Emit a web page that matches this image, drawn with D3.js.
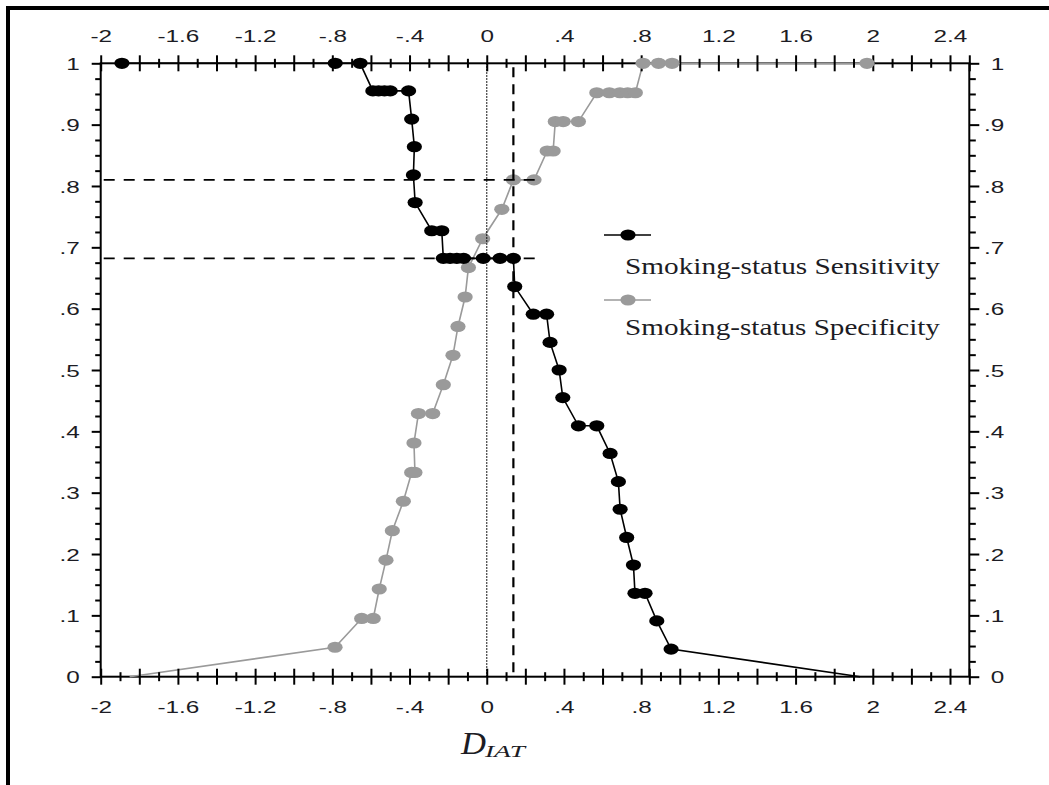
<!DOCTYPE html>
<html><head><meta charset="utf-8">
<script src="https://cdn.jsdelivr.net/npm/d3@7"></script>
<style>body{margin:0;background:#fff}svg{display:block}</style>
</head><body><svg id="c" width="1049" height="785"></svg>
<script>
// ---- data ----
const sensX = [-1.89, -0.785, -0.656, -0.59, -0.56, -0.53, -0.50, -0.405, -0.389, -0.375, -0.380, -0.371, -0.285, -0.233, -0.225, -0.19, -0.155, -0.12, -0.018, 0.069, 0.138, 0.145, 0.241, 0.310, 0.328, 0.375, 0.394, 0.475, 0.570, 0.639, 0.682, 0.691, 0.725, 0.760, 0.768, 0.820, 0.881, 0.955, 1.934];
const sensY = [1, 1, 1, 0.955, 0.955, 0.955, 0.955, 0.955, 0.909, 0.864, 0.818, 0.773, 0.727, 0.727, 0.682, 0.682, 0.682, 0.682, 0.682, 0.682, 0.682, 0.636, 0.591, 0.591, 0.545, 0.5, 0.455, 0.409, 0.409, 0.364, 0.318, 0.273, 0.227, 0.182, 0.136, 0.136, 0.091, 0.045, 0];
const specX = [-1.85, -0.786, -0.648, -0.588, -0.557, -0.522, -0.489, -0.432, -0.389, -0.372, -0.377, -0.354, -0.280, -0.225, -0.175, -0.149, -0.112, -0.095, -0.021, 0.078, 0.138, 0.245, 0.313, 0.344, 0.355, 0.396, 0.475, 0.570, 0.635, 0.69, 0.73, 0.77, 0.81, 0.89, 0.96, 1.97];
const specY = [0, 0.048, 0.095, 0.095, 0.143, 0.190, 0.238, 0.286, 0.333, 0.333, 0.381, 0.429, 0.429, 0.476, 0.524, 0.571, 0.619, 0.667, 0.714, 0.762, 0.810, 0.810, 0.857, 0.857, 0.905, 0.905, 0.905, 0.952, 0.952, 0.952, 0.952, 0.952, 1, 1, 1, 1];
const seriesNames = ["Smoking-status Sensitivity", "Smoking-status Specificity"];
const cutoffX = [0.138];
const cutoffY = [0.810, 0.682];
const cutoffEndX = [0.276];

const xLabelValues = [-2, -1.6, -1.2, -0.8, -0.4, 0, 0.4, 0.8, 1.2, 1.6, 2, 2.4];
const xTickLabels = ["-2", "-1.6", "-1.2", "-.8", "-.4", "0", ".4", ".8", "1.2", "1.6", "2", "2.4"];
const xLongTicks = [-2, -1.8, -1.6, -1.4, -1.2, -1, -0.8, -0.6, -0.4, -0.2, 0, 0.2, 0.4, 0.6, 0.8, 1, 1.2, 1.4, 1.6, 1.8, 2, 2.2, 2.4, 2.5];
const xShortTicks = [-1.9, -1.7, -1.5, -1.3, -1.1, -0.9, -0.7, -0.5, -0.3, -0.1, 0.1, 0.3, 0.5, 0.7, 0.9, 1.1, 1.3, 1.5, 1.7, 1.9, 2.1, 2.3];
const yLabelValues = [0, 0.1, 0.2, 0.3, 0.4, 0.5, 0.6, 0.7, 0.8, 0.9, 1];
const yTickLabels = ["0", ".1", ".2", ".3", ".4", ".5", ".6", ".7", ".8", ".9", "1"];
const yMinorTicks = [0.025,0.05,0.075,0.125,0.15,0.175,0.225,0.25,0.275,0.325,0.35,0.375,0.425,0.45,0.475,0.525,0.55,0.575,0.625,0.65,0.675,0.725,0.75,0.775,0.825,0.85,0.875,0.925,0.95,0.975];
const axisTitleMain = "D";
const axisTitleSub = "IAT";

// ---- layout ----
const svg = d3.select("#c");
const x = d3.scaleLinear().domain([-2, 2.5]).range([100.7, 969.3]);
const y = d3.scaleLinear().domain([0, 1]).range([676.7, 63.3]);
const X0 = x(-2), X1 = x(2.5), Y0 = y(0), Y1 = y(1);
const labelFont = "'Liberation Sans', Arial, sans-serif";
const serif = "'Liberation Serif', 'Times New Roman', serif";
const textCol = "#1c1c24";
const SX = 1.43;

// frame
svg.append("path").attr("d", "M8,790V8H1060").attr("fill", "none").attr("stroke", "#000").attr("stroke-width", 4);

// axis domain lines
const dom = svg.append("g").attr("stroke", "#000").attr("stroke-width", 2).attr("fill", "none");
dom.append("rect").attr("x", X0).attr("y", Y1).attr("width", X1 - X0).attr("height", Y0 - Y1);

// series
const sens = sensX.map((v, i) => [v, sensY[i]]);
const spec = specX.map((v, i) => [v, specY[i]]);
const line = d3.line().x(d => x(d[0])).y(d => y(d[1]));
const gGray = svg.append("g"), gBlack = svg.append("g");
gGray.append("path").datum(spec).attr("d", line).attr("fill", "none").attr("stroke", "#9a9a9a").attr("stroke-width", 1.6);
gBlack.append("path").datum(sens).attr("d", line).attr("fill", "none").attr("stroke", "#000").attr("stroke-width", 1.6);

// ticks
function crossTicks(g, size) {
  g.select(".domain").remove();
  g.selectAll(".tick line").attr("y1", -size).attr("y2", size).attr("stroke", "#000").attr("stroke-width", 2);
}
function styleText(g) {
  g.selectAll("text").attr("fill", textCol).attr("font-family", labelFont).attr("font-size", 17);
}
// bottom
const gb = svg.append("g").attr("transform", `translate(0,${Y0})`);
gb.call(d3.axisBottom(x).tickValues(xLongTicks).tickFormat("").tickSize(8)); crossTicks(gb, 8);
const gb2 = svg.append("g").attr("transform", `translate(0,${Y0})`);
gb2.call(d3.axisBottom(x).tickValues(xShortTicks).tickFormat("").tickSize(4.5)); crossTicks(gb2, 4.5);
const gbl = svg.append("g").attr("transform", `translate(0,${Y0})`);
gbl.call(d3.axisBottom(x).tickValues(xLabelValues).tickFormat((d, i) => xTickLabels[i]).tickSize(0));
gbl.select(".domain").remove(); styleText(gbl);
gbl.selectAll("text").attr("y", null).attr("dy", null).attr("transform", `translate(0,36) scale(${SX},1)`);
// top
const gt = svg.append("g").attr("transform", `translate(0,${Y1})`);
gt.call(d3.axisTop(x).tickValues(xLongTicks).tickFormat("").tickSize(8)); crossTicks(gt, 8);
const gt2 = svg.append("g").attr("transform", `translate(0,${Y1})`);
gt2.call(d3.axisTop(x).tickValues(xShortTicks).tickFormat("").tickSize(4.5)); crossTicks(gt2, 4.5);
const gtl = svg.append("g").attr("transform", `translate(0,${Y1})`);
gtl.call(d3.axisTop(x).tickValues(xLabelValues).tickFormat((d, i) => xTickLabels[i]).tickSize(0));
gtl.select(".domain").remove(); styleText(gtl);
gtl.selectAll("text").attr("y", null).attr("dy", null).attr("transform", `translate(0,-21.5) scale(${SX},1)`);
// left
const gl = svg.append("g").attr("transform", `translate(${X0},0)`);
gl.call(d3.axisLeft(y).tickValues(yLabelValues).tickFormat((d, i) => yTickLabels[i]).tickSize(9));
gl.select(".domain").remove(); styleText(gl);
gl.selectAll(".tick line").attr("stroke", "#000").attr("stroke-width", 2);
gl.selectAll("text").attr("x", null).attr("dy", "0.36em").attr("transform", `translate(-21,0) scale(${SX},1)`);
const gl2 = svg.append("g").attr("transform", `translate(${X0},0)`);
gl2.call(d3.axisLeft(y).tickValues(yMinorTicks).tickFormat("").tickSize(5.5));
gl2.select(".domain").remove(); gl2.selectAll(".tick line").attr("stroke", "#000").attr("stroke-width", 2);
// right
const gr = svg.append("g").attr("transform", `translate(${X1},0)`);
gr.call(d3.axisRight(y).tickValues(yLabelValues).tickFormat((d, i) => yTickLabels[i]).tickSize(10));
gr.select(".domain").remove(); styleText(gr);
gr.selectAll(".tick line").attr("stroke", "#000").attr("stroke-width", 2);
gr.selectAll("text").attr("x", null).attr("dy", "0.36em").attr("text-anchor", "end").attr("transform", `translate(35,0) scale(${SX},1)`);
const gr2 = svg.append("g").attr("transform", `translate(${X1},0)`);
gr2.call(d3.axisRight(y).tickValues(yMinorTicks).tickFormat("").tickSize(6.5));
gr2.select(".domain").remove(); gr2.selectAll(".tick line").attr("stroke", "#000").attr("stroke-width", 2);

// markers
const RX = 7.6, RY = 5.6;
svg.append("g").selectAll("ellipse").data(spec.filter(d => d[1] > 0)).join("ellipse")
  .attr("cx", d => x(d[0])).attr("cy", d => y(d[1])).attr("rx", RX).attr("ry", RY).attr("fill", "#9a9a9a");
svg.append("g").selectAll("ellipse").data(sens.filter(d => d[1] > 0)).join("ellipse")
  .attr("cx", d => x(d[0])).attr("cy", d => y(d[1])).attr("rx", RX).attr("ry", RY).attr("fill", "#000");

// reference lines
const ref = svg.append("g").attr("fill", "none").attr("stroke", "#000");
ref.append("line").attr("x1", x(0)).attr("x2", x(0)).attr("y1", Y1).attr("y2", Y0).attr("stroke-width", 1.2).attr("stroke-dasharray", "1.5,1.5");
ref.append("line").attr("x1", x(cutoffX[0])).attr("x2", x(cutoffX[0])).attr("y1", Y1 + 4).attr("y2", Y0).attr("stroke-width", 2.2).attr("stroke-dasharray", "10,7");
cutoffY.forEach(v => {
  ref.append("line").attr("x1", X0 + 3).attr("x2", x(cutoffEndX[0])).attr("y1", y(v)).attr("y2", y(v)).attr("stroke-width", 1.6).attr("stroke-dasharray", "11,9");
});

// legend
const lg = svg.append("g");
const legendColors = ["#000", "#9a9a9a"];
const legendLineY = [235, 300], legendTextY = [274, 335];
seriesNames.forEach((name, i) => {
  lg.append("line").attr("x1", 604).attr("x2", 651).attr("y1", legendLineY[i]).attr("y2", legendLineY[i]).attr("stroke", legendColors[i]).attr("stroke-width", 1.6);
  lg.append("ellipse").attr("cx", 628).attr("cy", legendLineY[i]).attr("rx", RX).attr("ry", RY).attr("fill", legendColors[i]);
  const t = lg.append("text").attr("font-family", serif).attr("font-size", 23).attr("fill", textCol).text(name);
  const w = t.node().getComputedTextLength();
  t.attr("transform", `translate(625,${legendTextY[i]}) scale(${315 / w},1)`);
});

// axis title
const tt = svg.append("g");
const tD = tt.append("text").attr("font-family", serif).attr("font-style", "italic").attr("font-size", 31).attr("fill", textCol).text(axisTitleMain);
tD.attr("transform", `translate(461,754) scale(${25 / tD.node().getComputedTextLength()},1)`);
const tS = tt.append("text").attr("font-family", serif).attr("font-style", "italic").attr("font-size", 16).attr("fill", textCol).text(axisTitleSub);
tS.attr("transform", `translate(485,757) scale(${40 / tS.node().getComputedTextLength()},1)`);
</script>
</body></html>
